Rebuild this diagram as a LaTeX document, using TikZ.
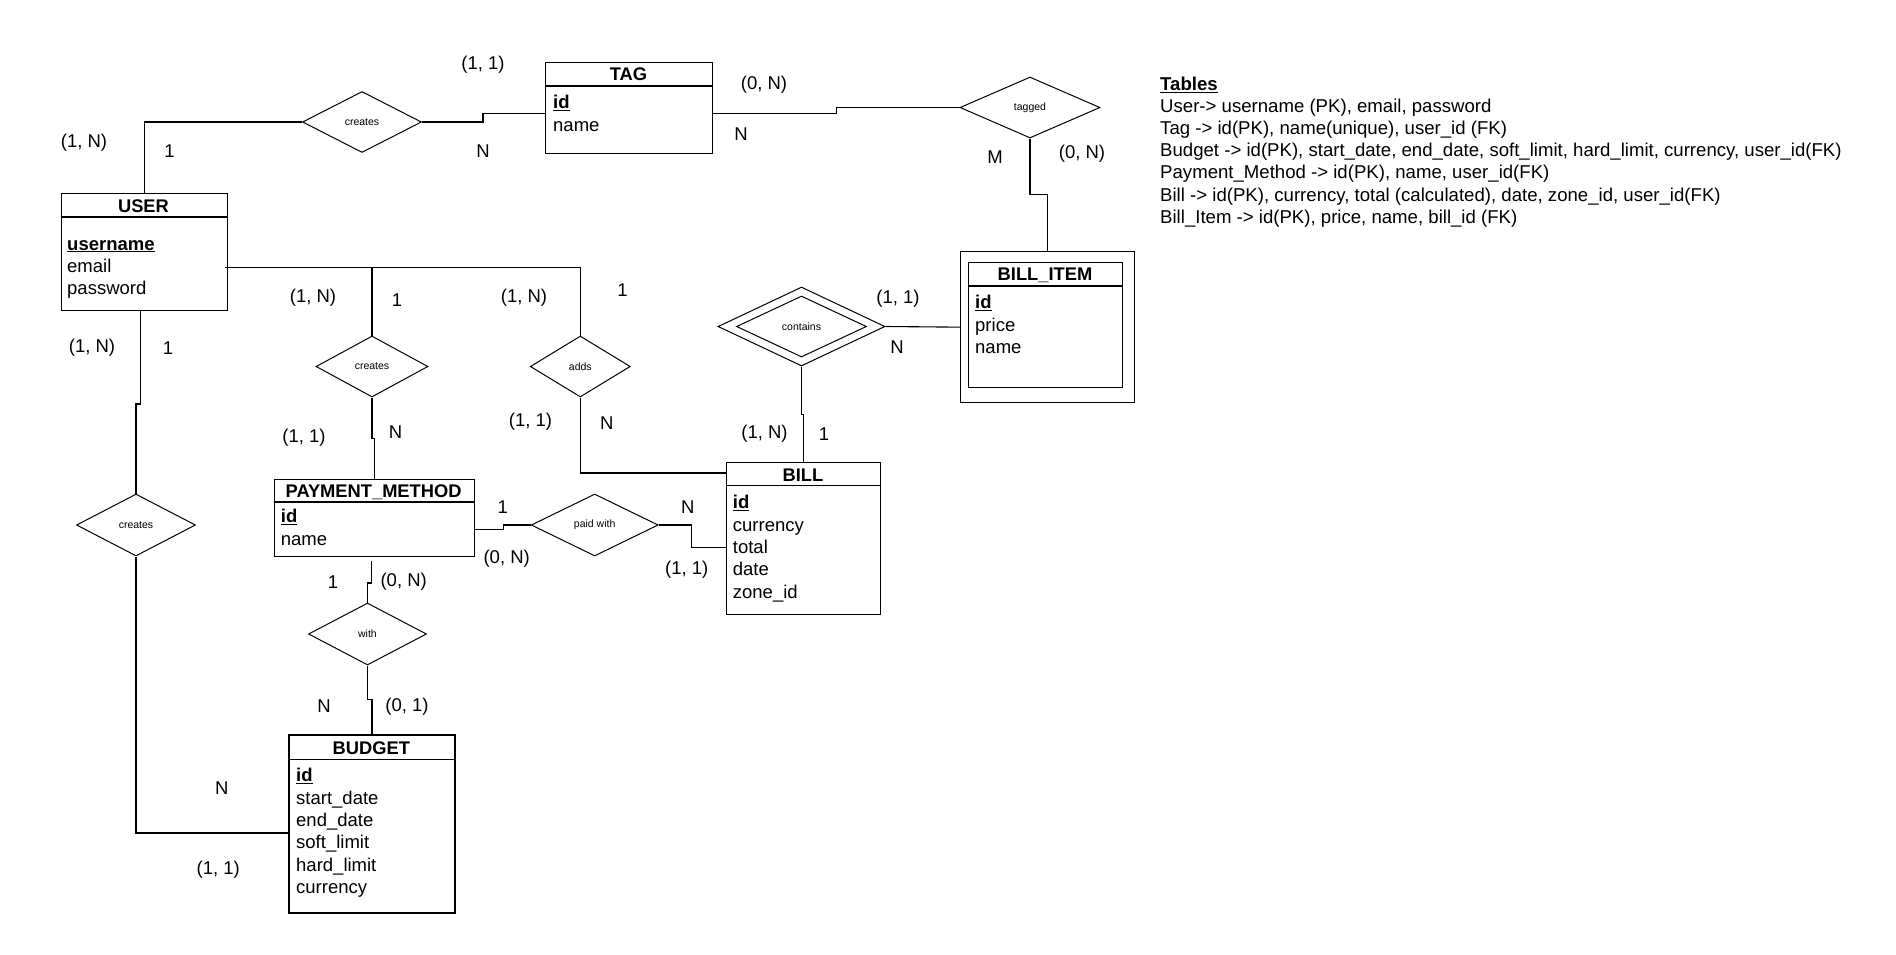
\documentclass[tikz,border=0pt]{standalone}
\usepackage{fontspec}
\setmainfont{Liberation Sans}
\usetikzlibrary{shapes.geometric,calc}
\begin{document}
\begin{tikzpicture}[x=1pt,y=-1pt,
  ent/.style={draw, line width=1.3pt, anchor=north west, inner sep=0pt},
  sepline/.style={line width=1.1pt},
  rel/.style={draw, diamond, aspect=2, inner sep=0pt, line width=1.0pt, font=\fontsize{10.5}{12}\selectfont},
  ttl/.style={font=\fontsize{18.3}{22}\selectfont\bfseries, anchor=base, inner sep=0pt},
  att/.style={font=\fontsize{18.5}{22}\selectfont, anchor=base west, inner sep=0pt},
  tbl/.style={font=\fontsize{18.6}{22}\selectfont, anchor=base west, inner sep=0pt},
  card/.style={font=\fontsize{18.5}{22}\selectfont, inner sep=0pt},
  conn/.style={draw, line width=1.1pt}]
\fill[white] (0,0) rectangle (1896,954);
\useasboundingbox (0,0) rectangle (1896,954);

% ---------- entities ----------
% USER
\node[ent, minimum width=166pt, minimum height=117pt] (user) at (60.5,193) {};
\draw[sepline] ($(user.north west)+(0,24)$) -- ($(user.north east)+(0,24)$);
\node[ttl] (user-t) at (143.5,212.5) {USER};
\node[att] (user-a0) at (67,250) {\underline{\textbf{username}}};
\node[att] (user-a1) at (67,272.4) {email};
\node[att] (user-a2) at (67,294.8) {password};

% TAG
\node[ent, minimum width=167pt, minimum height=91pt] (tag) at (545,62) {};
\draw[sepline] ($(tag.north west)+(0,24)$) -- ($(tag.north east)+(0,24)$);
\node[ttl] (tag-t) at (628.5,80.8) {TAG};
\node[att] (tag-a0) at (553,108.7) {\underline{\textbf{id}}};
\node[att] (tag-a1) at (553,131.1) {name};

% PAYMENT_METHOD
\node[ent, minimum width=200pt, minimum height=77pt] (pm) at (273.6,479) {};
\draw[sepline] ($(pm.north west)+(0,23)$) -- ($(pm.north east)+(0,23)$);
\node[ttl] (pm-t) at (373.6,497.4) {PAYMENT\_METHOD};
\node[att] (pm-a0) at (280.7,522.7) {\underline{\textbf{id}}};
\node[att] (pm-a1) at (280.7,545.1) {name};

% BILL
\node[ent, minimum width=154.3pt, minimum height=152.3pt] (bill) at (725.7,461.7) {};
\draw[sepline] ($(bill.north west)+(0,24)$) -- ($(bill.north east)+(0,24)$);
\node[ttl] (bill-t) at (802.9,481.4) {BILL};
\node[att] (bill-a0) at (732.7,508.7) {\underline{\textbf{id}}};
\node[att] (bill-a1) at (732.7,531.1) {currency};
\node[att] (bill-a2) at (732.7,553.5) {total};
\node[att] (bill-a3) at (732.7,575.9) {date};
\node[att] (bill-a4) at (732.7,598.3) {zone\_id};

% BUDGET
\node[ent, minimum width=166pt, minimum height=177.3pt] (budget) at (288.3,735) {};
\draw[line width=1.9pt] (budget.north west) -- (budget.north east);
\draw[sepline] ($(budget.north west)+(0,24.3)$) -- ($(budget.north east)+(0,24.3)$);
\node[ttl] (budget-t) at (371.3,754.8) {BUDGET};
\node[att] (budget-a0) at (296,781.7) {\underline{\textbf{id}}};
\node[att] (budget-a1) at (296,804.1) {start\_date};
\node[att] (budget-a2) at (296,826.5) {end\_date};
\node[att] (budget-a3) at (296,848.9) {soft\_limit};
\node[att] (budget-a4) at (296,871.3) {hard\_limit};
\node[att] (budget-a5) at (296,893.7) {currency};

% BILL_ITEM (weak entity)
\node[ent, minimum width=174pt, minimum height=151pt] (bio) at (960,251) {};
\node[ent, minimum width=154pt, minimum height=125pt] (bi) at (968,262) {};
\draw[sepline] ($(bi.north west)+(0,24)$) -- ($(bi.north east)+(0,24)$);
\node[ttl] (bi-t) at (1045,280.8) {BILL\_ITEM};
\node[att] (bi-a0) at (975,308.7) {\underline{\textbf{id}}};
\node[att] (bi-a1) at (975,331.1) {price};
\node[att] (bi-a2) at (975,353.5) {name};

% ---------- relationships ----------
\node[rel, minimum width=119pt, minimum height=61pt] (tcr) at (362,122) {creates};
\node[rel, minimum width=140pt, minimum height=61pt] (tagged) at (1030,107.5) {tagged};
\node[rel, minimum width=167pt, minimum height=79pt] (conto) at (801.5,326.5) {};
\node[rel, minimum width=130pt, minimum height=61pt] (cont) at (801.5,326.5) {contains};
\node[rel, minimum width=100pt, minimum height=61pt] (adds) at (580.3,366.5) {adds};
\node[rel, minimum width=112pt, minimum height=61pt] (mcr) at (372,366.5) {creates};
\node[rel, minimum width=119pt, minimum height=62pt] (lcr) at (136,525) {creates};
\node[rel, minimum width=127pt, minimum height=62pt] (paid) at (594.7,525) {paid with};
\node[rel, minimum width=118pt, minimum height=62pt] (with) at (367.5,634) {with};

% ---------- connectors ----------
\coordinate (uemail) at ($(user.east)+(-3,15.5)$);
\draw[conn] (user.north) |- (tcr.west);
\draw[conn] (tcr.east) -- ++(61,0) |- ($(tag.west)+(0,5.5)$);
\draw[conn] ($(tag.east)+(0,5.5)$) -- ++(123,0) |- (tagged.west);
\draw[conn] (tagged.south) -- ++(0,56) -| (bio.north);
\draw[conn] (conto.east) -- (bio.west);
\draw[conn] (conto.south) -- ++(0,48) -| (bill.north);
\draw[conn] (uemail) -| (adds.north);
\draw[conn] (mcr.north) -- (mcr.north |- uemail);
\draw[conn] (mcr.south) -- ++(0,41) -| (pm.north);
\draw[conn] (adds.south) |- ($(bill.north west)+(0,11.3)$);
\draw[conn] ($(pm.east)+(0,11.5)$) -- ++(28.2,0) |- (paid.west);
\draw[conn] (paid.east) -- ++(33,0) |- ($(bill.west)+(0,9.2)$);
\draw[conn] ($(pm.south)+(-2.5,4)$) -- ++(0,21.7) -| (with.north);
\draw[conn] (with.south) -- ++(0,34.3) -| (budget.north);
\draw[conn] ($(user.south)+(-3.5,0)$) -- ++(0,92.7) -| (lcr.north);
\draw[conn] (lcr.south) |- ($(budget.west)+(0,8.7)$);

% ---------- cardinalities ----------
\node[card] (c1) at (483,65) {(1, 1)};
\node[card] (c2) at (84,143) {(1, N)};
\node[card] (c3) at (169.5,151) {1};
\node[card] (c4) at (483,151) {N};
\node[card] (c5) at (764,85) {(0, N)};
\node[card] (c6) at (741,134) {N};
\node[card] (c7) at (995,157) {M};
\node[card] (c8) at (1082,154) {(0, N)};
\node[card] (c9) at (313,298) {(1, N)};
\node[card] (c10) at (397,300) {1};
\node[card] (c11) at (524,298) {(1, N)};
\node[card] (c12) at (622.6,290) {1};
\node[card] (c13) at (898,299) {(1, 1)};
\node[card] (c14) at (897,347) {N};
\node[card] (c15) at (92,348) {(1, N)};
\node[card] (c16) at (168,348) {1};
\node[card] (c17) at (304,438) {(1, 1)};
\node[card] (c18) at (395.6,431.7) {N};
\node[card] (c19) at (530.5,422) {(1, 1)};
\node[card] (c20) at (606.7,423) {N};
\node[card] (c21) at (764.5,434) {(1, N)};
\node[card] (c22) at (824,434) {1};
\node[card] (c23) at (502.7,506.7) {1};
\node[card] (c24) at (506.7,559) {(0, N)};
\node[card] (c25) at (687.7,506.7) {N};
\node[card] (c26) at (686.7,570) {(1, 1)};
\node[card] (c27) at (333,581.7) {1};
\node[card] (c28) at (403.7,582) {(0, N)};
\node[card] (c29) at (324,705.7) {N};
\node[card] (c30) at (407,707) {(0, 1)};
\node[card] (c31) at (221.7,788.3) {N};
\node[card] (c32) at (218.3,870) {(1, 1)};

% ---------- tables list ----------
\node[tbl] (t0) at (1160,90.7) {\underline{\textbf{Tables}}};
\node[tbl] (t1) at (1160,112.6) {User-> username (PK), email, password};
\node[tbl] (t2) at (1160,134.7) {Tag -> id(PK), name(unique), user\_id (FK)};
\node[tbl] (t3) at (1160,156.8) {Budget -> id(PK), start\_date, end\_date, soft\_limit, hard\_limit, currency, user\_id(FK)};
\node[tbl] (t4) at (1160,178.9) {Payment\_Method -> id(PK), name, user\_id(FK)};
\node[tbl] (t5) at (1160,201.0) {Bill -> id(PK), currency, total (calculated), date, zone\_id, user\_id(FK)};
\node[tbl] (t6) at (1160,223.1) {Bill\_Item -> id(PK), price, name, bill\_id (FK)};
\end{tikzpicture}
\end{document}
